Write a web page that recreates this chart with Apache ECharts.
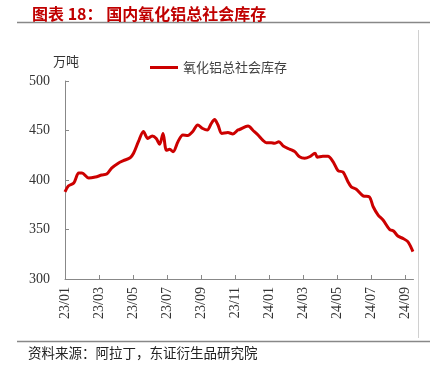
<!DOCTYPE html>
<html>
<head>
<meta charset="utf-8">
<script src="https://cdn.jsdelivr.net/npm/echarts@6/dist/echarts.min.js"></script>
<style>
html,body{margin:0;padding:0;background:#fff;}
#c{width:441px;height:375px;}
</style>
</head>
<body>
<div id="c"></div>
<script>
var dates = [
 '2023-01-01','2023-01-07','2023-01-17','2023-01-26','2023-02-01','2023-02-12','2023-02-23',
 '2023-03-06','2023-03-15','2023-03-24','2023-04-05','2023-04-14','2023-04-26','2023-05-02',
 '2023-05-11','2023-05-20','2023-05-28','2023-06-05','2023-06-12','2023-06-18','2023-06-24',
 '2023-06-30','2023-07-06','2023-07-12','2023-07-21','2023-07-30','2023-08-08','2023-08-17',
 '2023-08-26','2023-09-04','2023-09-12','2023-09-19','2023-09-25','2023-10-01','2023-10-08',
 '2023-10-19','2023-10-28','2023-11-06','2023-11-09','2023-11-24','2023-12-03','2023-12-12',
 '2023-12-21','2023-12-27','2024-01-05','2024-01-11','2024-01-19','2024-01-27','2024-02-08',
 '2024-02-16','2024-02-24','2024-03-04','2024-03-13','2024-03-23','2024-03-27','2024-04-06',
 '2024-04-15','2024-04-24','2024-05-03','2024-05-12','2024-05-21','2024-05-27','2024-06-05',
 '2024-06-17','2024-06-28','2024-07-05','2024-07-14','2024-07-23','2024-08-04','2024-08-11',
 '2024-08-19','2024-08-28','2024-09-06','2024-09-15'
];
// 国内氧化铝总社会库存 (万吨)
var stock = [
 388,394,397,407,407,402,403,
 405,406,412,417,419.5,422.5,427,
 439,449,442,444.5,442,436,447,
 430,431,428.6,438.7,445.5,445,449,
 455.5,452,450.5,457,461,455.5,447,
 448,446.5,450.5,451,454.5,450,445.5,
 440,437.7,437.7,437,438.7,434.3,431,
 428.6,423.5,422,423.5,427,423,424,
 424,418.5,409.4,408,398.3,393,390.6,
 384,383,373,364.6,359.6,350,348.5,
 343.4,341,337.7,327.6
];
var tickLabels = ['23/01','23/03','23/05','23/07','23/09','23/11','24/01','24/03','24/05','24/07','24/09'];
var seriesName = '氧化铝总社会库存';

function monthOffset(s){
  var p = s.split('-'); var y=+p[0], m=+p[1], d=+p[2];
  var dim = new Date(y, m, 0).getDate();
  return (y-2023)*12 + (m-1) + (d-1)/dim;
}
var pts = dates.map(function(d,i){ return [monthOffset(d), stock[i]]; });

var chart = echarts.init(document.getElementById('c'), null, {renderer:'canvas'});
var serif = '"Liberation Serif","DejaVu Serif",serif';
var cjk = '"Noto Sans CJK SC","Noto Sans",sans-serif';
chart.setOption({
  animation:false,
  backgroundColor:'#fff',
  title:{
    text:'图表 18： 国内氧化铝总社会库存',
    left:27, top:1,
    textStyle:{color:'#C00000', fontSize:16, fontWeight:'bold', fontFamily:cjk}
  },
  legend:{
    data:[seriesName], top:56, left:145,
    itemWidth:28, itemHeight:3, icon:'rect',
    textStyle:{fontSize:13, color:'#404040', fontFamily:cjk}
  },
  grid:{left:65, right:27.5, top:81, bottom:96},
  xAxis:{
    type:'value', min:0, max:20.5, interval:2,
    axisLine:{lineStyle:{color:'#888', width:1}},
    axisTick:{inside:true, length:4, lineStyle:{color:'#888'}},
    splitLine:{show:false},
    axisLabel:{
      rotate:90, margin:8, color:'#333', fontSize:14, fontFamily:serif,
      formatter:function(v){ var i=Math.round(v/2); return tickLabels[i]||''; }
    }
  },
  yAxis:{
    type:'value', min:300, max:500, interval:50,
    name:'万吨', nameLocation:'end', nameGap:13,
    nameTextStyle:{color:'#333', fontSize:13, fontFamily:cjk, align:'right', padding:[0,-14,0,0]},
    axisLine:{show:true, lineStyle:{color:'#888', width:1}},
    axisTick:{show:true, inside:true, length:4, lineStyle:{color:'#888'}},
    splitLine:{show:false},
    axisLabel:{color:'#333', fontSize:14, fontFamily:serif, margin:15}
  },
  series:[{
    name:seriesName, type:'line', data:pts, smooth:0.3,
    showSymbol:false, symbol:'none',
    lineStyle:{color:'#CC0000', width:3},
    itemStyle:{color:'#CC0000'}
  }],
  graphic:[
    {type:'line', shape:{x1:17,y1:22.5,x2:430,y2:22.5}, style:{stroke:'#888', lineWidth:1.5}},
    {type:'line', shape:{x1:17,y1:341.5,x2:430,y2:341.5}, style:{stroke:'#888', lineWidth:1.5}},
    {type:'line', shape:{x1:418.5,y1:30,x2:418.5,y2:338}, style:{stroke:'#d0d0d0', lineWidth:1}},
    {type:'text', left:28, top:346, style:{text:'资料来源：阿拉丁，东证衍生品研究院', font:'13.5px '+cjk, fill:'#222'}}
  ]
});
</script>
</body>
</html>
